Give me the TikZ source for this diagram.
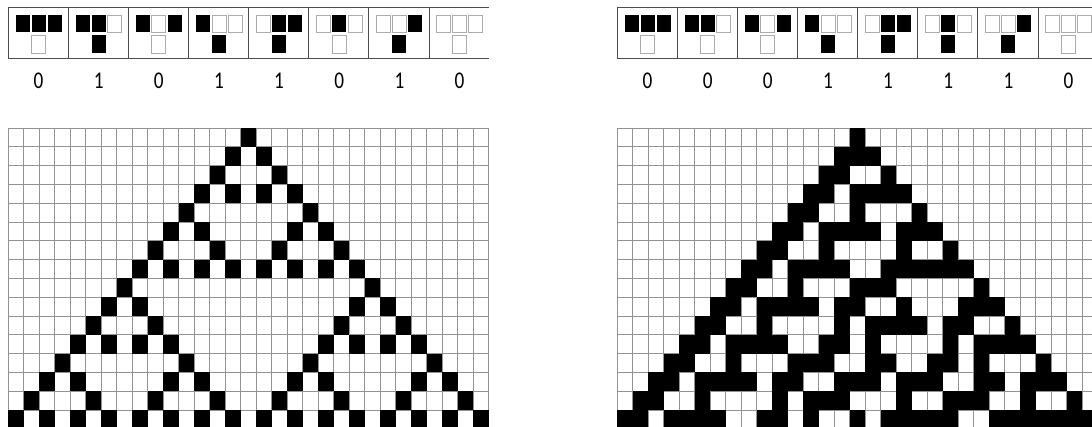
\documentclass[tikz,border=0pt]{standalone}
\usepackage{fontspec}
\setmainfont{Carlito}
\makeatletter
\def\defrule#1#2#3#4#5#6#7#8#9{\@namedef{#1-7}{#2}\@namedef{#1-6}{#3}\@namedef{#1-5}{#4}\@namedef{#1-4}{#5}\@namedef{#1-3}{#6}\@namedef{#1-2}{#7}\@namedef{#1-1}{#8}\@namedef{#1-0}{#9}}
\defrule{Ra}01011010
\defrule{Rb}00011110
\makeatother
\tikzset{
  gridline/.style={draw=gray!85, line width=0.75pt},
  blackcell/.style={fill=black},
  hdrbox/.style={draw=gray!60!black, line width=1pt},
  whitesq/.style={draw=gray!65, fill=white, line width=0.9pt},
  blacksq/.style={fill=black},
  digit/.style={font=\fontsize{24}{28}\selectfont, inner sep=0pt, xscale=0.8}
}
% #1 rule name, #2 x0, #3 y0
\newcommand\drawca[3]{%
  \foreach \i in {0,...,31}{\draw[gridline] ({#2+\i*15.5},#3) -- ({#2+\i*15.5},{#3+16*18.8});}
  \foreach \j in {0,...,16}{\draw[gridline] (#2,{#3+\j*18.8}) -- ({#2+31*15.5},{#3+\j*18.8});}
  \foreach \c in {0,...,32}{\expandafter\xdef\csname A-0-\c\endcsname{\ifnum\c=16 1\else 0\fi}}
  \fill[blackcell] ({#2+15*15.5},#3) rectangle ++(15.5,18.8);
  \foreach \r in {1,...,15}{%
    \edef\pr{\the\numexpr\r-1\relax}%
    \expandafter\xdef\csname A-\r-0\endcsname{0}%
    \expandafter\xdef\csname A-\r-32\endcsname{0}%
    \foreach \c in {1,...,31}{%
      \edef\pl{\the\numexpr\c-1\relax}%
      \edef\pn{\the\numexpr\c+1\relax}%
      \edef\idx{\the\numexpr 4*\csname A-\pr-\pl\endcsname+2*\csname A-\pr-\c\endcsname+\csname A-\pr-\pn\endcsname\relax}%
      \edef\st{\csname #1-\idx\endcsname}%
      \expandafter\xdef\csname A-\r-\c\endcsname{\st}%
      \ifnum\st=1 \fill[blackcell] ({#2+(\c-1)*15.5},{#3+\r*18.8}) rectangle ++(15.5,18.8);\fi
    }%
  }%
}
% #1 x0, #2 list k/out, #3 name prefix
\newcommand\drawhdr[3]{%
  \draw[hdrbox] (#1,8) -- ({#1+481},8);
  \draw[hdrbox] (#1,59) -- ({#1+481},59);
  \foreach \k/\o in {#2}{%
    \draw[hdrbox] ({#1+60.15*\k},8) -- ({#1+60.15*\k},59);
    \pgfmathtruncatemacro\n{7-\k}%
    \pgfmathtruncatemacro\bl{floor(\n/4)}%
    \pgfmathtruncatemacro\bc{mod(floor(\n/2),2)}%
    \pgfmathtruncatemacro\br{mod(\n,2)}%
    \pgfmathsetmacro\cx{#1+60.15*\k+30.5}%
    \ifnum\bl=1 \fill[blacksq] ({\cx-23},15) rectangle ++(14,17);\else \draw[whitesq] ({\cx-23},15) rectangle ++(14,17);\fi
    \ifnum\bc=1 \fill[blacksq] ({\cx-7},15) rectangle ++(14,17);\else \draw[whitesq] ({\cx-7},15) rectangle ++(14,17);\fi
    \ifnum\br=1 \fill[blacksq] ({\cx+9},15) rectangle ++(14,17);\else \draw[whitesq] ({\cx+9},15) rectangle ++(14,17);\fi
    \ifnum\o=1 \fill[blacksq] ({\cx-7},35.5) rectangle ++(14,17.5);\else \draw[whitesq] ({\cx-7},35.5) rectangle ++(14,17.5);\fi
    \node[digit] (#3\k) at (\cx,81) {\o};
  }%
}
\begin{document}
\begin{tikzpicture}[x=1pt,y=-1pt]
\useasboundingbox (0,0) rectangle (1092,427);
\clip (0,0) rectangle (1092,427);
\fill[white] (0,0) rectangle (1092,427);
\drawhdr{8}{0/0,1/1,2/0,3/1,4/1,5/0,6/1,7/0}{la}
\drawhdr{617}{0/0,1/0,2/0,3/1,4/1,5/1,6/1,7/0}{ra}
\drawca{Ra}{8}{128}
\drawca{Rb}{617}{128}
\end{tikzpicture}
\end{document}
